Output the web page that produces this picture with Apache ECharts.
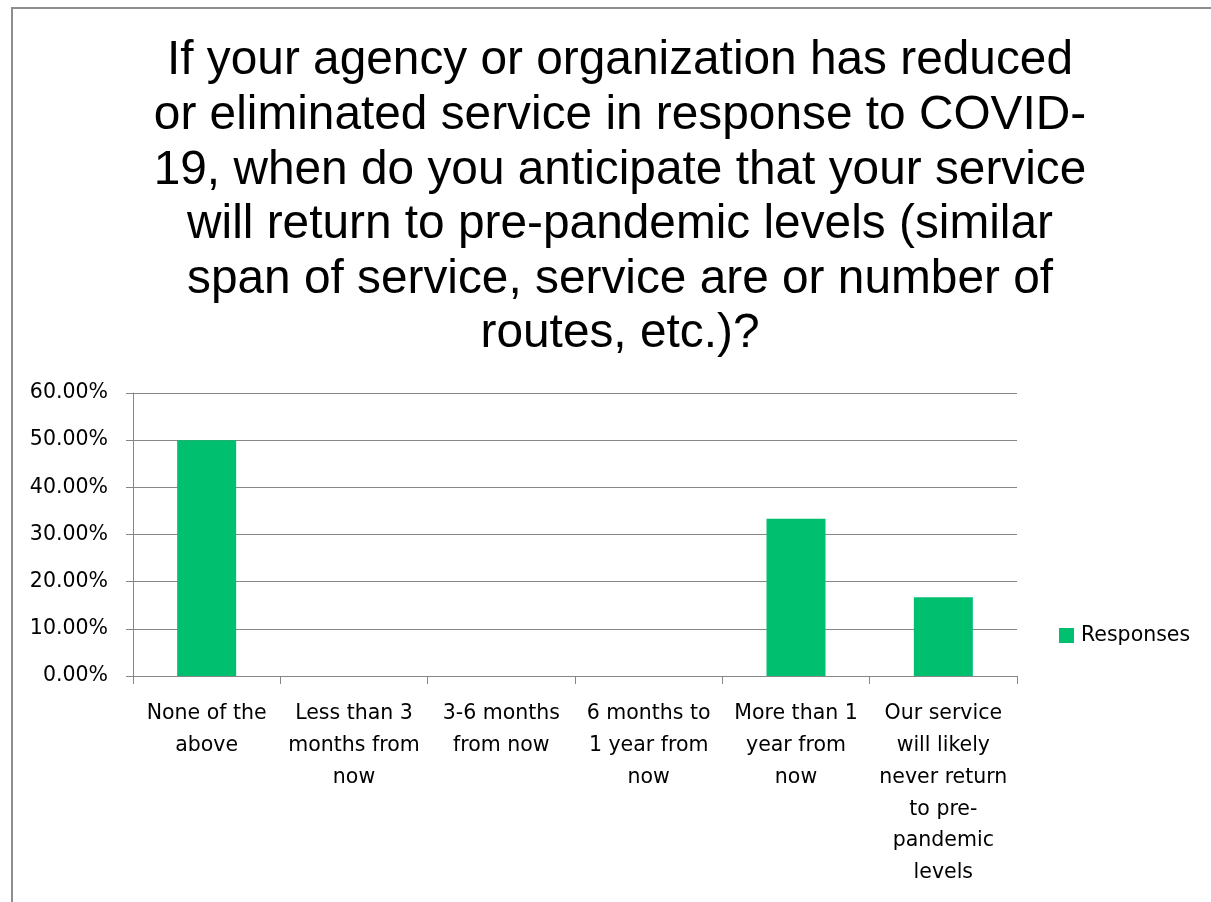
<!DOCTYPE html>
<html>
<head>
<meta charset="utf-8">
<script src="https://cdn.jsdelivr.net/npm/echarts@6/dist/echarts.min.js"></script>
<style>
html,body{margin:0;padding:0;background:#fff;}
#chart{width:1211px;height:902px;}
</style>
</head>
<body>
<div id="chart"></div>
<script>
const titleText = "If your agency or organization has reduced\nor eliminated service in response to COVID-\n19, when do you anticipate that your service\nwill return to pre-pandemic levels (similar\nspan of service, service are or number of\nroutes, etc.)?";
const categories = [
  "None of the\nabove",
  "Less than 3\nmonths from\nnow",
  "3-6 months\nfrom now",
  "6 months to\n1 year from\nnow",
  "More than 1\nyear from\nnow",
  "Our service\nwill likely\nnever return\nto pre-\npandemic\nlevels"
];
const seriesName = "Responses";
const responses = [0.5, 0, 0, 0, 0.3333, 0.1667];
const yMin = 0, yMax = 0.6, yInterval = 0.1;

const chart = echarts.init(document.getElementById('chart'), null, {renderer: 'canvas'});
const gray = '#878787';
const labelFont = 'DejaVu Sans';
chart.setOption({
  backgroundColor: '#ffffff',
  animation: false,
  graphic: [{
    type: 'rect',
    shape: {x: 12, y: 8, width: 1400, height: 1200},
    style: {fill: 'none', stroke: '#8e8e8e', lineWidth: 2},
    silent: true,
    z: -1
  }],
  title: {
    text: titleText,
    left: 615,
    top: 29,
    textAlign: 'center',
    textStyle: {
      fontFamily: 'Liberation Sans',
      fontSize: 47.8,
      fontWeight: 'normal',
      color: '#000',
      lineHeight: 54.6
    }
  },
  legend: {
    data: [seriesName],
    left: 1059,
    top: 625,
    orient: 'vertical',
    itemWidth: 15,
    itemHeight: 15,
    itemGap: 0,
    icon: 'rect',
    textStyle: {fontFamily: labelFont, fontSize: 20.5, color: '#000', padding: [0,0,0,2]},
    padding: 0
  },
  grid: {
    left: 133, right: 194, top: 393, bottom: 226,
    containLabel: false,
    outerBoundsMode: 'none'
  },
  xAxis: {
    type: 'category',
    data: categories,
    axisLine: {show: true, lineStyle: {color: gray, width: 1}},
    axisTick: {show: true, length: 8, lineStyle: {color: gray}},
    axisLabel: {
      interval: 0,
      margin: 22,
      fontFamily: labelFont,
      fontSize: 20.5,
      lineHeight: 31.8,
      color: '#000',
      align: 'center',
      verticalAlign: 'top'
    }
  },
  yAxis: {
    type: 'value',
    min: yMin, max: yMax, interval: yInterval,
    axisLine: {show: true, lineStyle: {color: gray, width: 1}},
    axisTick: {show: true, length: 7, lineStyle: {color: gray}},
    splitLine: {show: true, lineStyle: {color: gray, width: 1}},
    axisLabel: {
      margin: 25,
      fontFamily: labelFont,
      fontSize: 20.5,
      color: '#000',
      padding: [3, 0, 0, 0],
      formatter: v => (v * 100).toFixed(2) + '%'
    }
  },
  series: [{
    name: seriesName,
    type: 'bar',
    data: responses,
    barWidth: 59,
    itemStyle: {color: '#00BF6F'}
  }]
});
</script>
</body>
</html>
